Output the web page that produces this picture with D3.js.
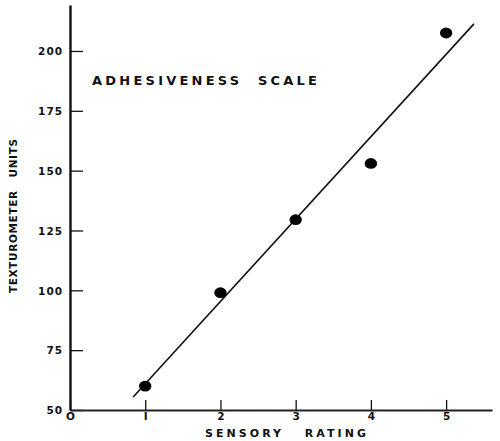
<!DOCTYPE html>
<html>
<head>
<meta charset="utf-8">
<script src="https://cdn.jsdelivr.net/npm/d3@7"></script>
<style>
  html, body { margin: 0; padding: 0; background: #fff; }
  svg { display: block; }
  text { font-family: "DejaVu Sans", "Liberation Sans", Arial, sans-serif; font-weight: bold; fill: #111; }
</style>
</head>
<body>
<svg id="chart" width="500" height="441"></svg>
<script>
// ---- data ----
const sensoryRating = [1, 2, 3, 4, 5];
const texturometerUnits = [60, 99, 129.5, 153, 207.5];
const fitLineX = [0.84, 5.37];
const fitLineY = [55.4, 211.3];
const xTickValues = [0, 1, 2, 3, 4, 5];
const xTickLabels = ["O", "I", "2", "3", "4", "5"];
const yTickValues = [50, 75, 100, 125, 150, 175, 200];
const yTickLabels = ["50", "75", "100", "125", "150", "175", "200"];
const chartTitle = "ADHESIVENESS  SCALE";
const xTitle = "SENSORY   RATING";
const yTitle = "TEXTUROMETER   UNITS";

// ---- layout ----
const svg = d3.select("#chart");
const mLeft = 70, mRight = 492, mTop = 5, mBottom = 410;
const x = d3.scaleLinear().domain([0, 5.61]).range([mLeft, mRight]);
const y = d3.scaleLinear().domain([50, 219.2]).range([mBottom, mTop]);

// y axis
const yAxis = d3.axisLeft(y)
  .tickValues(yTickValues)
  .tickFormat((d, i) => yTickLabels[i])
  .tickSizeInner(-13)
  .tickSizeOuter(0)
  .tickPadding(7);
const gy = svg.append("g").attr("transform", `translate(${mLeft},0)`).call(yAxis);
gy.select(".domain").attr("stroke", "#111").attr("stroke-width", 2.4);
gy.selectAll(".tick line").attr("stroke", "#111").attr("stroke-width", 1.3);
gy.selectAll(".tick text")
  .style("font-size", "10.5px")
  .style("letter-spacing", "1px")
  .attr("dy", "0.35em");

// x axis
const xAxis = d3.axisBottom(x)
  .tickValues(xTickValues)
  .tickFormat((d, i) => xTickLabels[i])
  .tickSizeInner(-10)
  .tickSizeOuter(0)
  .tickPadding(3);
const gx = svg.append("g").attr("transform", `translate(0,${mBottom})`).call(xAxis);
gx.select(".domain").attr("stroke", "#222").attr("stroke-width", 2);
gx.selectAll(".tick line").attr("stroke", "#111").attr("stroke-width", 1.3);
gx.selectAll(".tick text").style("font-size", "10.5px");

// fitted line
const lineData = fitLineX.map((d, i) => [d, fitLineY[i]]);
svg.append("path")
  .datum(lineData)
  .attr("fill", "none")
  .attr("stroke", "#111")
  .attr("stroke-width", 1.6)
  .attr("d", d3.line().x(d => x(d[0])).y(d => y(d[1])));

// points
svg.selectAll("ellipse.pt")
  .data(sensoryRating)
  .enter().append("ellipse")
  .attr("class", "pt")
  .attr("cx", d => x(d))
  .attr("cy", (d, i) => y(texturometerUnits[i]))
  .attr("rx", 6.2)
  .attr("ry", 5.4)
  .attr("fill", "#000");

// chart title
svg.append("text")
  .attr("x", 92).attr("y", 85)
  .attr("textLength", 225).attr("lengthAdjust", "spacing")
  .style("font-size", "13px")
  .style("white-space", "pre")
  .text(chartTitle);

// x title
svg.append("text")
  .attr("x", 205).attr("y", 437)
  .attr("textLength", 161).attr("lengthAdjust", "spacing")
  .style("font-size", "11px")
  .style("white-space", "pre")
  .text(xTitle);

// y title
svg.append("text")
  .attr("transform", "translate(17,293) rotate(-90)")
  .attr("x", 0).attr("y", 0)
  .attr("textLength", 154).attr("lengthAdjust", "spacing")
  .style("font-size", "10.5px")
  .style("white-space", "pre")
  .text(yTitle);
</script>
</body>
</html>
